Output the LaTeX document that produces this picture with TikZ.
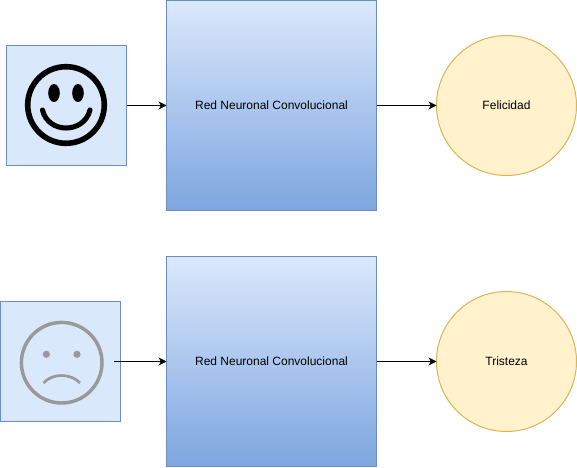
\documentclass[tikz,border=0pt]{standalone}
\usepackage{fontspec}
\setmainfont{Liberation Sans}
\usetikzlibrary{positioning,arrows.meta,shapes.geometric}
\definecolor{inblue}{HTML}{DAE8FC}
\definecolor{inline}{HTML}{6C8EBF}
\definecolor{netblue}{HTML}{7EA6E0}
\definecolor{outfill}{HTML}{FFF2CC}
\definecolor{outline}{HTML}{D6B656}
\definecolor{sadgray}{HTML}{999999}

\begin{document}
\begin{tikzpicture}[
  x=0.75pt, y=-0.75pt,
  node distance=30pt and 30pt,
  inbox/.style={draw=inline, fill=inblue, minimum size=90pt, outer sep=0pt, line width=0.75pt},
  net/.style={draw=inline, top color=inblue, bottom color=netblue, minimum size=157.5pt,
              outer sep=0pt, line width=0.75pt, font=\fontsize{9pt}{11pt}\selectfont},
  result/.style={circle, draw=outline, fill=outfill, minimum size=105pt, outer sep=0pt,
                 line width=0.75pt, font=\fontsize{9pt}{11pt}\selectfont},
  arr/.style={-{Stealth[length=6pt, width=6pt, inset=1.8pt]}, line width=0.75pt}
]
\useasboundingbox (0,0) rectangle (577,467);
% top row
\node[inbox] (happy) at (66.5,105.5) {};
\node[net, right=of happy] (net1) {Red Neuronal Convolucional};
\node[result, right=45pt of net1] (fel) {Felicidad};
\draw[arr] (happy) -- (net1);
\draw[arr] (net1) -- (fel);
% bottom row
\node[inbox] (sad) at (60.5,361.5) {};
\node[net, right=34.5pt of sad] (net2) {Red Neuronal Convolucional};
\node[result, right=45pt of net2] (tri) {Tristeza};
\coordinate (sadout) at (114,361.5);
\draw[arr] (sadout) -- (net2);
\draw[arr] (net2) -- (tri);
% happy face
\draw[black, line width=4.2pt] (66,105) circle (38.3);
\fill[black] (54,93) ellipse (5.8 and 9);
\fill[black] (78,93) ellipse (5.8 and 9);
\draw[black, line width=3.8pt, line cap=round] (42.5,110) .. controls (48,134) and (84,134) .. (90,110);
% sad face
\draw[sadgray, line width=2.6pt] (61.7,362.7) circle (40.3);
\fill[sadgray] (46.3,354.3) circle (3.6);
\fill[sadgray] (77,354.3) circle (3.6);
\draw[sadgray, line width=2pt] (43.5,383) .. controls (52,373) and (71,373) .. (80,383);
\end{tikzpicture}
\end{document}
